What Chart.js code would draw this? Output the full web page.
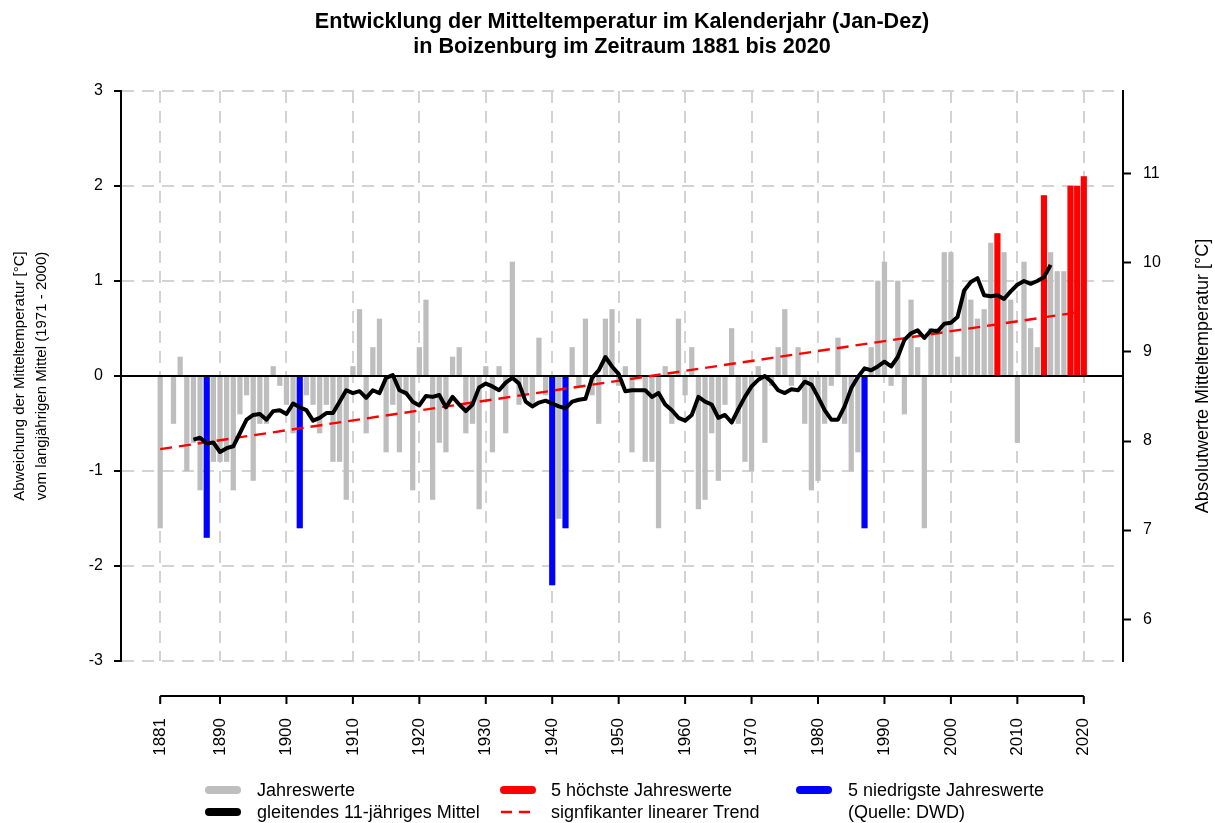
<!DOCTYPE html>
<html>
<head>
<meta charset="utf-8">
<script src="https://cdn.jsdelivr.net/npm/chart.js@4.4.0/dist/chart.umd.min.js"></script>
<style>
    html, body { margin: 0; padding: 0; background: #fff; }
    canvas { display: block; }
</style>
</head>
<body>
<canvas id="chart" width="1215" height="823"></canvas>
<script>
// Zeitraum
const firstYear = 1881;
const lastYear = 2020;

// Abweichung vom langjährigen Mittel 1971-2000 [°C], ein Wert pro Jahr
const anomalies = [
    -1.6, 0.0, -0.5, 0.2, -1.0, -0.7, -1.2, -1.7, -0.9, -0.9,   // 1881-1890
    -0.9, -1.2, -0.4, -0.2, -1.1, -0.5, -0.5, 0.1, -0.1, -0.3,  // 1891-1900
    -0.6, -1.6, -0.2, -0.3, -0.6, -0.3, -0.9, -0.9, -1.3, 0.1,  // 1901-1910
    0.7, -0.6, 0.3, 0.6, -0.8, -0.3, -0.8, -0.2, -1.2, 0.3,     // 1911-1920
    0.8, -1.3, -0.7, -0.8, 0.2, 0.3, -0.6, -0.5, -1.4, 0.1,     // 1921-1930
    -0.8, 0.1, -0.6, 1.2, -0.3, -0.2, -0.3, 0.4, -0.2, -2.2,    // 1931-1940
    -1.5, -1.6, 0.3, -0.1, 0.6, -0.2, -0.5, 0.6, 0.7, -0.1,     // 1941-1950
    0.1, -0.8, 0.6, -0.9, -0.9, -1.6, 0.1, -0.5, 0.6, -0.2,     // 1951-1960
    0.3, -1.4, -1.3, -0.6, -1.1, -0.3, 0.5, -0.5, -0.9, -1.0,   // 1961-1970
    0.1, -0.7, -0.1, 0.3, 0.7, -0.1, 0.3, -0.5, -1.2, -1.1,     // 1971-1980
    -0.5, -0.1, 0.4, -0.5, -1.0, -0.8, -1.6, 0.3, 1.0, 1.2,     // 1981-1990
    -0.1, 1.0, -0.4, 0.8, 0.3, -1.6, 0.5, 0.5, 1.3, 1.3,        // 1991-2000
    0.2, 0.9, 0.8, 0.6, 0.7, 1.4, 1.5, 1.3, 0.8, -0.7,          // 2001-2010
    1.2, 0.5, 0.3, 1.9, 1.3, 1.1, 1.1, 2.0, 2.0, 2.1            // 2011-2020
];

// hervorgehobene Jahre
const hottestYears = [2007, 2014, 2018, 2019, 2020];
const coldestYears = [1888, 1902, 1940, 1942, 1987];

// gleitendes 11-jähriges Mittel, 1886 bis 2015
const meanStart = 1886;
const meanValues = [
    -0.67, -0.65, -0.71, -0.70, -0.80,                                 // 1886-1890
    -0.76, -0.74, -0.60, -0.46, -0.41, -0.40, -0.46, -0.37, -0.36, -0.40, // 1891-1900
    -0.29, -0.33, -0.36, -0.47, -0.44, -0.39, -0.39, -0.27, -0.15, -0.18, // 1901-1910
    -0.16, -0.23, -0.15, -0.18, -0.02, 0.01, -0.15, -0.18, -0.27, -0.31,  // 1911-1920
    -0.21, -0.22, -0.20, -0.33, -0.22, -0.30, -0.37, -0.30, -0.12, -0.08, // 1921-1930
    -0.11, -0.15, -0.07, -0.02, -0.08, -0.27, -0.32, -0.28, -0.26, -0.29, // 1931-1940
    -0.32, -0.34, -0.27, -0.25, -0.24, -0.02, 0.06, 0.20, 0.10, 0.02,     // 1941-1950
    -0.16, -0.15, -0.15, -0.15, -0.22, -0.18, -0.30, -0.36, -0.44, -0.47, // 1951-1960
    -0.41, -0.22, -0.27, -0.30, -0.44, -0.41, -0.49, -0.35, -0.22, -0.11, // 1961-1970
    -0.04, 0.00, -0.06, -0.15, -0.18, -0.14, -0.15, -0.06, -0.09, -0.22,  // 1971-1980
    -0.36, -0.46, -0.46, -0.32, -0.13, -0.01, 0.08, 0.06, 0.10, 0.15,     // 1981-1990
    0.10, 0.20, 0.38, 0.45, 0.48, 0.40, 0.48, 0.47, 0.55, 0.56,           // 1991-2000
    0.62, 0.90, 0.99, 1.03, 0.85, 0.84, 0.85, 0.81, 0.89, 0.96,           // 2001-2010
    1.00, 0.97, 1.00, 1.04, 1.17                                          // 2011-2015
];

// linearer Trend (Anfang und Ende)
const trendYears = [1881, 2020];
const trendValues = [-0.77, 0.68];

// Achsenbeschriftungen
const xTickYears = [1881, 1890, 1900, 1910, 1920, 1930, 1940, 1950, 1960, 1970, 1980, 1990, 2000, 2010, 2020];
const leftTicks = [-3, -2, -1, 0, 1, 2, 3];
const rightTicks = [6, 7, 8, 9, 10, 11];

// Layout
const plotLeft = 121, plotRight = 1123, plotBottom = 661;
const xPad = 5.9;
const rightMin = 5.53, rightMax = 11.93;
const gridColor = '#d3d3d3';
const grey = '#bebebe', red = '#ff0000', blue = '#0000ff';
const fontFamily = "'Liberation Sans', Arial, sans-serif";

Chart.defaults.font.family = fontFamily;
Chart.defaults.color = '#000';

const years = anomalies.map((v, i) => firstYear + i);
const barPoints = years.map((yr, i) => ({ x: yr, y: anomalies[i] }));
const pick = list => list.map(yr => ({ x: yr, y: anomalies[yr - firstYear] }));

// Nulllinie, untere Achse, rechter Titel und Legende
const extras = {
    id: 'extras',
    beforeDatasetDraw(chart, args) {
        if (args.index !== 1) return;
        const { ctx, chartArea, scales } = chart;
        const y0 = scales.y.getPixelForValue(0);
        ctx.save();
        ctx.strokeStyle = '#000';
        ctx.lineWidth = 2;
        ctx.beginPath();
        ctx.moveTo(chartArea.left, y0);
        ctx.lineTo(chartArea.right, y0);
        ctx.stroke();
        ctx.restore();
    },
    afterDraw(chart) {
        const { ctx, chartArea, scales } = chart;
        const xs = scales.x;
        const axisY = chartArea.bottom + 35;

        ctx.save();
        ctx.strokeStyle = '#000';
        ctx.lineWidth = 2;
        ctx.beginPath();
        ctx.moveTo(xs.getPixelForValue(firstYear), axisY);
        ctx.lineTo(xs.getPixelForValue(lastYear), axisY);
        xTickYears.forEach(yr => {
            const px = xs.getPixelForValue(yr);
            ctx.moveTo(px, axisY);
            ctx.lineTo(px, axisY + 8);
        });
        ctx.stroke();

        // rechter Achsentitel
        ctx.fillStyle = '#000';
        ctx.font = '18px ' + fontFamily;
        ctx.textAlign = 'center';
        ctx.textBaseline = 'middle';
        ctx.translate(1203, (chartArea.top + chartArea.bottom) / 2);
        ctx.rotate(-Math.PI / 2);
        ctx.fillText('Absolutwerte Mitteltemperatur [°C]', 0, 0);
        ctx.restore();

        // Legende
        const colSym = [205, 500, 796];
        const colText = [257, 551, 848];
        const rowY = [790, 812];
        const items = [
            { col: 0, row: 0, text: 'Jahreswerte', color: grey },
            { col: 1, row: 0, text: '5 höchste Jahreswerte', color: red },
            { col: 2, row: 0, text: '5 niedrigste Jahreswerte', color: blue },
            { col: 0, row: 1, text: 'gleitendes 11-jähriges Mittel', color: '#000' },
            { col: 1, row: 1, text: 'signfikanter linearer Trend', color: red, dashed: true },
            { col: 2, row: 1, text: '(Quelle: DWD)' }
        ];
        ctx.save();
        ctx.font = '18px ' + fontFamily;
        ctx.textAlign = 'left';
        ctx.textBaseline = 'middle';
        items.forEach(it => {
            const y = rowY[it.row];
            const x = colSym[it.col];
            if (it.color) {
                ctx.beginPath();
                ctx.strokeStyle = it.color;
                if (it.dashed) {
                    ctx.lineWidth = 2.5;
                    ctx.lineCap = 'butt';
                    ctx.setLineDash([11, 7]);
                    ctx.moveTo(x + 1, y);
                    ctx.lineTo(x + 36, y);
                } else {
                    ctx.lineWidth = 8;
                    ctx.lineCap = 'round';
                    ctx.setLineDash([]);
                    ctx.moveTo(x + 4, y);
                    ctx.lineTo(x + 32, y);
                }
                ctx.stroke();
            }
            ctx.fillStyle = '#000';
            ctx.fillText(it.text, colText[it.col], y + 1);
        });
        ctx.restore();
    }
};

new Chart(document.getElementById('chart'), {
    data: {
        datasets: [
            {
                type: 'line',
                label: 'gleitendes 11-jähriges Mittel',
                data: meanValues.map((v, i) => ({ x: meanStart + i, y: v })),
                borderColor: '#000',
                borderWidth: 4,
                borderJoinStyle: 'round',
                pointRadius: 0,
                tension: 0,
                order: 0
            },
            {
                type: 'line',
                label: 'signfikanter linearer Trend',
                data: trendYears.map((yr, i) => ({ x: yr, y: trendValues[i] })),
                borderColor: red,
                borderWidth: 2.4,
                borderDash: [12, 7],
                pointRadius: 0,
                order: 1
            },
            {
                type: 'bar',
                label: '5 höchste Jahreswerte',
                data: pick(hottestYears),
                backgroundColor: red,
                barThickness: 5.5,
                grouped: false,
                order: 2
            },
            {
                type: 'bar',
                label: '5 niedrigste Jahreswerte',
                data: pick(coldestYears),
                backgroundColor: blue,
                barThickness: 5.5,
                grouped: false,
                order: 2
            },
            {
                type: 'bar',
                label: 'Jahreswerte',
                data: barPoints,
                backgroundColor: grey,
                barThickness: 4.6,
                grouped: false,
                order: 3
            }
        ]
    },
    options: {
        responsive: false,
        devicePixelRatio: 1,
        animation: false,
        layout: { padding: 0 },
        plugins: {
            legend: { display: false },
            tooltip: { enabled: false },
            title: {
                display: true,
                fullSize: false,
                text: ['Entwicklung der Mitteltemperatur im Kalenderjahr (Jan-Dez)', 'in Boizenburg im Zeitraum 1881 bis 2020'],
                font: { size: 21.6, weight: 'bold', lineHeight: 1.157 },
                color: '#000',
                padding: { top: 9.5, bottom: 31.5 }
            }
        },
        scales: {
            x: {
                type: 'linear',
                offset: false,
                min: firstYear - xPad,
                max: lastYear + xPad,
                afterFit: s => { s.height = 823 - plotBottom; },
                afterBuildTicks: s => { s.ticks = xTickYears.map(v => ({ value: v })); },
                grid: { color: gridColor, lineWidth: 2, drawTicks: false, offset: false },
                border: { display: false, dash: [12, 8] },
                ticks: {
                    color: '#000',
                    font: { size: 17 },
                    minRotation: 90,
                    maxRotation: 90,
                    autoSkip: false,
                    padding: 57,
                    callback: v => String(v)
                }
            },
            y: {
                type: 'linear',
                position: 'left',
                min: -3,
                max: 3,
                afterFit: s => { s.width = plotLeft; },
                afterBuildTicks: s => { s.ticks = leftTicks.map(v => ({ value: v })); },
                grid: { color: gridColor, lineWidth: 2, tickColor: '#000', tickWidth: 2, tickLength: 7, tickBorderDash: [] },
                border: { display: true, color: '#000', width: 2, dash: [12, 8] },
                ticks: { color: '#000', font: { size: 16 }, padding: 11, callback: v => String(v) },
                title: {
                    display: true,
                    text: ['Abweichung der Mitteltemperatur [°C]', 'vom langjährigen Mittel (1971 - 2000)'],
                    font: { size: 15, lineHeight: 1.47 },
                    color: '#000',
                    padding: { top: 9, bottom: 0 }
                }
            },
            y2: {
                type: 'linear',
                position: 'right',
                min: rightMin,
                max: rightMax,
                afterFit: s => { s.width = 1215 - plotRight; },
                afterBuildTicks: s => { s.ticks = rightTicks.map(v => ({ value: v })); },
                grid: { drawOnChartArea: false, tickColor: '#000', tickWidth: 2, tickLength: 8 },
                border: { display: true, color: '#000', width: 2 },
                ticks: { color: '#000', font: { size: 16 }, padding: 12, callback: v => String(v) }
            }
        }
    },
    plugins: [extras]
});
</script>
</body>
</html>
